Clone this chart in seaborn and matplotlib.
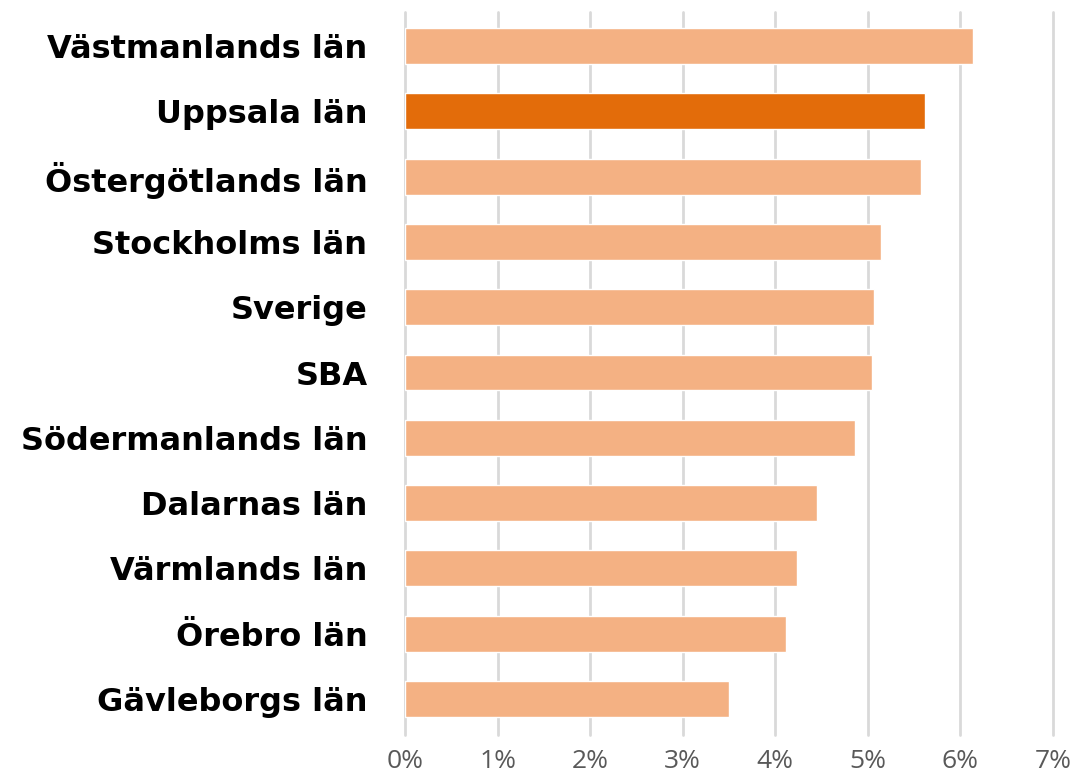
import matplotlib
matplotlib.use("Agg")
import matplotlib.pyplot as plt
import seaborn as sns
import pandas as pd

categories = ["Västmanlands län", "Uppsala län", "Östergötlands län", "Stockholms län",
              "Sverige", "SBA", "Södermanlands län", "Dalarnas län", "Värmlands län",
              "Örebro län", "Gävleborgs län"]
values = [6.14, 5.62, 5.57, 5.14, 5.07, 5.04, 4.86, 4.45, 4.23, 4.12, 3.50]
highlight = "Uppsala län"
tick_values = [0, 1, 2, 3, 4, 5, 6, 7]
tick_labels = ["0%", "1%", "2%", "3%", "4%", "5%", "6%", "7%"]

sns.set_theme(style="white")
plt.rcParams['font.family'] = ['DejaVu Sans']

df = pd.DataFrame({"cat": categories, "val": values})
palette = {c: ("#E36C0A" if c == highlight else "#F4B183") for c in categories}

fig = plt.figure(figsize=(10.76, 7.81), dpi=100)
ax = fig.add_axes([405/1076, 1 - 735/781, (1053-405)/1076, (735-12)/781])

sns.barplot(data=df, x="val", y="cat", hue="cat", palette=palette, order=categories,
            width=0.55, legend=False, ax=ax, saturation=1, zorder=3)

ax.set_xlim(0, 7)
ax.set_ylim(10.55, -0.52)
ax.set_xticks(tick_values)
ax.set_xticklabels(tick_labels, fontsize=19, color="#595959", fontfamily="Open Sans")
ax.tick_params(axis="x", length=0, pad=10)
ax.tick_params(axis="y", length=0, pad=27)
for lbl in ax.get_yticklabels():
    lbl.set_fontsize(23)
    lbl.set_fontweight("bold")
    lbl.set_color("black")
ax.set_xlabel("")
ax.set_ylabel("")
ax.grid(axis="x", color="#D9D9D9", linewidth=2, zorder=0)
ax.grid(axis="y", visible=False)
for gl in ax.get_xgridlines():
    gl.set_clip_on(False)
for s in ax.spines.values():
    s.set_visible(False)

fig.savefig("out.png", dpi=100)
